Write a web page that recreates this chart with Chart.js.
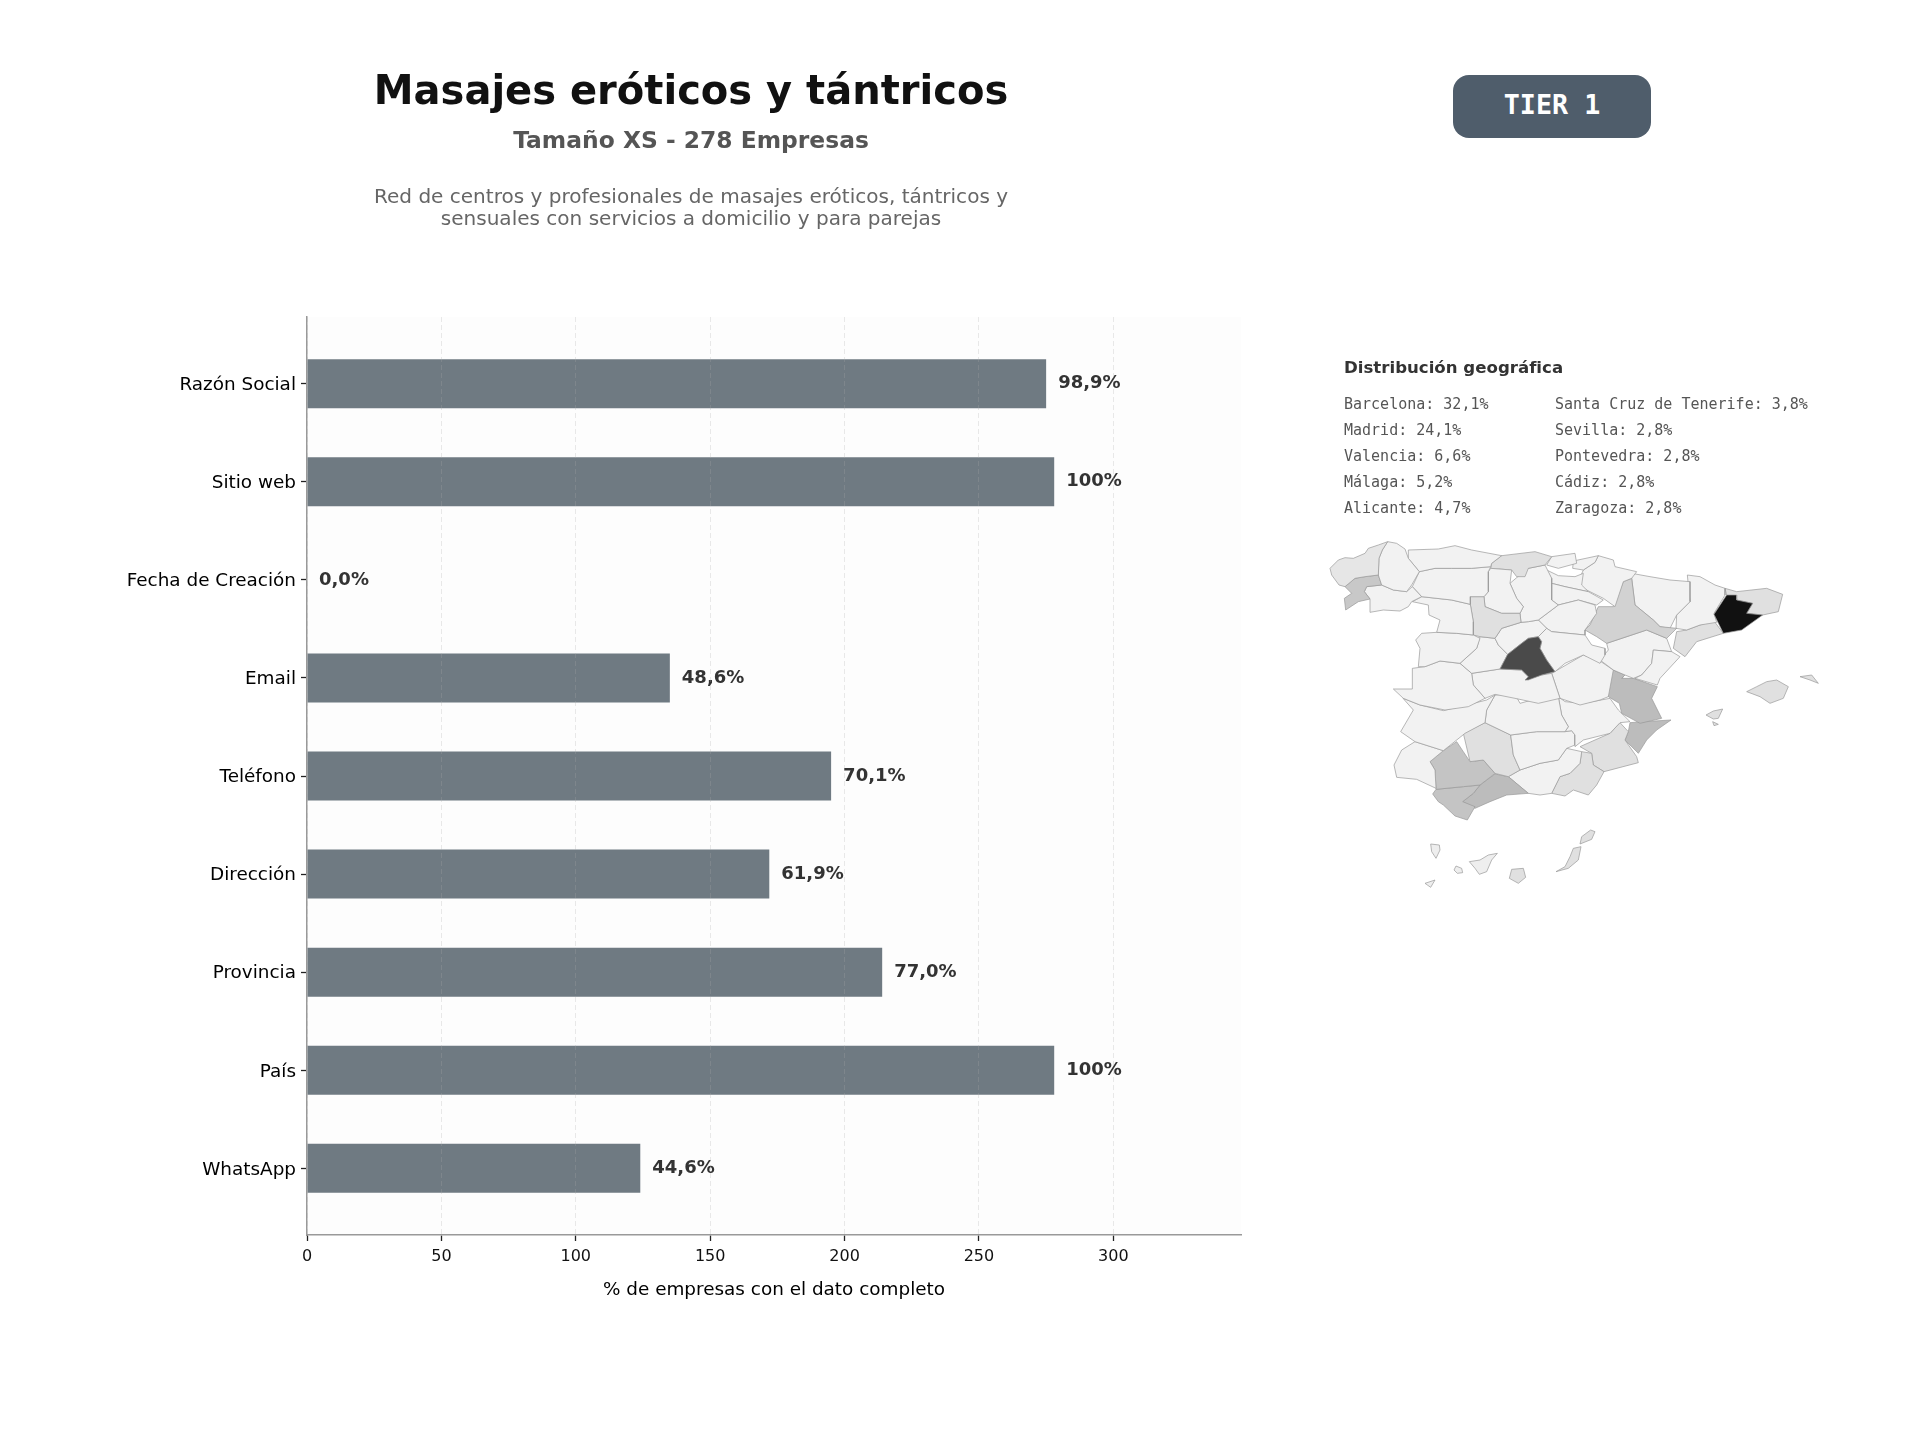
<!DOCTYPE html>
<html lang="es">
<head>
<meta charset="utf-8">
<title>Masajes eróticos y tántricos</title>
<script src="https://cdn.jsdelivr.net/npm/chart.js@4"></script>
<style>
html, body { margin: 0; background: #fff; }
body { width: 1920px; height: 1440px; position: relative; overflow: hidden; font-family: "DejaVu Sans", sans-serif; }
#main { position: absolute; left: 0; top: 0; }
#map { position: absolute; left: 1300px; top: 340px; }
.t { position: absolute; white-space: nowrap; }
.c { transform: translateX(-50%); text-align: center; }
#title { left: 691px; top: 65px; font-size: 40px; font-weight: bold; color: #111; line-height: 50px; }
#sub { left: 691px; top: 125px; font-size: 23.4px; font-weight: bold; color: #555; line-height: 30px; }
#desc { left: 691px; top: 185px; font-size: 20.05px; color: #666; line-height: 22px; }
#tier { left: 1453px; top: 75px; width: 198px; height: 63px; border-radius: 16px; background: #4f5d6b; color: #fff;
        font: bold 26.7px "DejaVu Sans Mono", monospace; line-height: 60px; text-align: center; }
#geoTitle { left: 1344px; top: 358px; font-size: 16.6px; font-weight: bold; color: #333; line-height: 20px; }
.geo { font: 15px "DejaVu Sans Mono", monospace; color: #555; line-height: 18px; }
</style>
</head>
<body>
<canvas id="main" width="1300" height="1440"></canvas>
<canvas id="map" width="560" height="570"></canvas>
<div class="t c" id="title">Masajes eróticos y tántricos</div>
<div class="t c" id="sub">Tamaño XS - 278 Empresas</div>
<div class="t c" id="desc">Red de centros y profesionales de masajes eróticos, tántricos y<br>sensuales con servicios a domicilio y para parejas</div>
<div class="t" id="tier">TIER 1</div>
<div class="t" id="geoTitle">Distribución geográfica</div>
<script>
const campos = ["Razón Social", "Sitio web", "Fecha de Creación", "Email", "Teléfono", "Dirección", "Provincia", "País", "WhatsApp"]
const empresas = [275, 278, 0, 135, 195, 172, 214, 278, 124]
const etiquetas = ["98,9%", "100%", "0,0%", "48,6%", "70,1%", "61,9%", "77,0%", "100%", "44,6%"]
const marcasX = [0, 50, 100, 150, 200, 250, 300]

const geoIzq = ["Barcelona: 32,1%", "Madrid: 24,1%", "Valencia: 6,6%", "Málaga: 5,2%", "Alicante: 4,7%"]
const geoDer = ["Santa Cruz de Tenerife: 3,8%", "Sevilla: 2,8%", "Pontevedra: 2,8%", "Cádiz: 2,8%", "Zaragoza: 2,8%"]

// el mapa se leyo por hojas; cada hoja tiene su origen en unidades del mapa
const hojas = { A: [75, 585], B: [810, 585], C: [240, 1050] }

// provincias: nombre, hoja, gris, contorno x,y
const provincias = [
  ["Barcelona", "B", "#111111", [470,180, 500,180, 500,195, 548,205, 530,235, 578,240, 515,285, 460,295, 432,238]],
  ["Madrid", "A", "#4a4a4a", [640,305, 650,320, 645,340, 665,375, 690,410, 650,420, 610,435, 600,435, 610,425, 590,405, 525,402, 548,358, 590,325, 610,310]],
  ["A Coruña", "A", "#e6e6e6", [15,100, 40,75, 60,68, 85,70, 120,55, 130,40, 160,30, 188,20, 172,45, 162,70, 160,120, 120,125, 90,130, 60,155, 42,150, 20,120]],
  ["Lugo", "A", "#f2f2f2", [188,20, 215,25, 240,42, 250,70, 283,110, 260,150, 245,170, 205,165, 170,150, 160,120, 162,70, 172,45]],
  ["Pontevedra", "A", "#c8c8c8", [60,155, 90,130, 120,125, 160,120, 170,150, 125,155, 118,170, 135,192, 100,200, 62,225, 58,190, 80,175]],
  ["Ourense", "A", "#f2f2f2", [125,155, 170,150, 205,165, 245,170, 262,155, 290,185, 260,200, 250,215, 225,228, 175,225, 135,232, 135,192, 118,170]],
  ["Asturias", "A", "#f2f2f2", [250,45, 340,42, 390,32, 440,45, 530,62, 500,85, 497,95, 440,100, 380,100, 330,100, 283,110, 250,70]],
  ["León", "A", "#f2f2f2", [283,110, 330,100, 380,100, 440,100, 497,95, 490,110, 490,170, 477,185, 436,185, 436,208, 380,195, 290,185, 262,155]],
  ["Zamora", "A", "#f2f2f2", [262,200, 290,185, 380,195, 436,208, 445,260, 445,300, 395,295, 335,292, 345,255, 312,240, 310,210]],
  ["Salamanca", "A", "#f2f2f2", [335,292, 395,295, 445,300, 465,310, 455,340, 405,385, 345,378, 300,395, 280,395, 285,340, 272,315, 290,295]],
  ["Valladolid", "A", "#e0e0e0", [436,185, 477,185, 480,215, 530,235, 585,235, 588,262, 530,280, 510,310, 465,305, 445,300, 445,260, 436,208]],
  ["Palencia", "A", "#f2f2f2", [497,100, 560,105, 555,145, 575,190, 595,215, 585,235, 530,235, 480,215, 477,185, 490,170, 490,110]],
  ["Cantabria", "A", "#e0e0e0", [500,85, 530,62, 630,50, 680,65, 660,90, 610,100, 600,125, 575,125, 560,105, 497,100]],
  ["Burgos", "A", "#f2f2f2", [555,145, 575,128, 610,100, 660,90, 680,130, 680,195, 700,210, 640,255, 610,260, 588,262, 585,235, 595,215, 575,190]],
  ["Segovia", "A", "#f2f2f2", [510,310, 530,280, 588,262, 610,260, 640,255, 665,280, 640,305, 610,310, 590,325, 548,358, 520,330]],
  ["Ávila", "A", "#f2f2f2", [465,305, 510,310, 520,330, 548,358, 525,402, 440,415, 405,385, 455,340]],
  ["Guadalajara", "A", "#f2f2f2", [640,305, 665,280, 680,290, 780,300, 800,330, 840,340, 840,360, 825,385, 775,360, 720,385, 690,410, 665,375, 645,340, 650,320]],
  ["Soria", "A", "#f2f2f2", [640,255, 700,210, 760,195, 810,210, 815,235, 780,285, 780,300, 680,290, 665,280]],
  ["La Rioja", "A", "#f2f2f2", [680,195, 680,145, 720,155, 790,170, 835,195, 815,210, 760,195, 700,210]],
  ["Álava", "A", "#f2f2f2", [665,105, 700,122, 750,125, 775,115, 770,150, 790,170, 720,155, 680,145, 680,130]],
  ["Bizkaia", "A", "#f2f2f2", [680,65, 750,55, 755,85, 700,100, 665,90]],
  ["Cáceres", "A", "#f2f2f2", [262,400, 300,395, 345,378, 405,385, 440,415, 445,450, 480,490, 430,515, 360,525, 285,510, 235,490, 205,462, 262,462]],
  ["Toledo", "A", "#f2f2f2", [440,415, 525,402, 590,405, 610,425, 600,435, 650,420, 680,415, 705,490, 640,505, 570,490, 510,478, 480,490, 445,450]],
  ["Gipuzkoa", "B", "#f2f2f2", [10,78, 85,62, 75,82, 40,105, 8,100]],
  ["Navarra", "B", "#f2f2f2", [85,62, 130,75, 135,95, 200,110, 185,130, 160,140, 135,215, 100,190, 20,150, 40,105, 75,82]],
  ["Zaragoza", "B", "#d2d2d2", [45,285, 60,270, 85,215, 130,215, 160,140, 185,130, 195,210, 250,255, 270,275, 320,280, 290,310, 230,285, 110,325, 80,305]],
  ["Huesca", "B", "#f2f2f2", [185,115, 240,125, 300,135, 360,140, 360,200, 320,240, 300,280, 270,275, 250,255, 195,210, 185,130]],
  ["Lleida", "B", "#f2f2f2", [352,120, 390,125, 435,150, 465,160, 465,180, 432,235, 440,262, 390,270, 350,285, 318,280, 320,240, 360,200]],
  ["Girona", "B", "#e0e0e0", [465,160, 500,170, 590,160, 638,178, 625,230, 578,240, 530,235, 548,205, 500,195, 470,180]],
  ["Tarragona", "B", "#e0e0e0", [432,258, 460,295, 380,320, 345,365, 310,340, 320,290, 350,285, 390,270]],
  ["Castellón", "B", "#f2f2f2", [330,365, 270,430, 262,450, 195,430, 215,420, 245,385, 250,345, 305,350]],
  ["Teruel", "B", "#f2f2f2", [110,325, 230,285, 290,310, 305,350, 250,345, 245,385, 215,420, 190,430, 165,420, 130,405, 90,375, 115,345]],
  ["Valencia", "B", "#bcbcbc", [130,405, 165,420, 155,430, 190,430, 262,455, 245,490, 275,550, 210,565, 155,535, 148,505, 115,485]],
  ["Cuenca", "B", "#f2f2f2", [-55,415, 40,360, 90,378, 130,405, 160,425, 115,485, 90,495, 30,510, -30,490]],
  ["Mallorca", "B", "#e0e0e0", [530,470, 560,455, 590,440, 620,435, 655,455, 640,490, 600,505, 570,485]],
  ["Menorca", "B", "#e0e0e0", [690,425, 725,420, 745,445, 720,435]],
  ["Ibiza", "B", "#e0e0e0", [408,540, 430,528, 458,522, 445,550, 430,552]],
  ["Formentera", "B", "#e0e0e0", [428,560, 445,568, 432,572]],
  ["Badajoz", "C", "#f2f2f2", [69,25, 120,45, 190,62, 260,45, 320,30, 345,15, 320,60, 315,98, 255,130, 190,182, 105,155, 62,125, 100,60]],
  ["Ciudad Real", "C", "#f2f2f2", [345,15, 405,12, 420,40, 510,15, 535,20, 545,75, 565,110, 555,125, 470,125, 392,135, 315,98, 320,60]],
  ["Albacete", "C", "#f2f2f2", [535,20, 555,35, 610,40, 690,25, 715,60, 750,95, 720,98, 690,130, 610,150, 585,170, 585,135, 575,122, 555,125, 565,110, 545,75]],
  ["Jaén", "C", "#f2f2f2", [392,135, 470,125, 555,125, 575,122, 585,135, 585,165, 560,175, 535,210, 480,220, 420,240, 400,195]],
  ["Córdoba", "C", "#e0e0e0", [315,98, 392,135, 400,195, 420,240, 385,260, 345,250, 310,210, 270,215, 250,130]],
  ["Huelva", "C", "#f2f2f2", [105,155, 190,182, 150,215, 165,240, 168,295, 110,268, 50,262, 42,225, 65,180]],
  ["Sevilla", "C", "#c4c4c4", [230,155, 250,185, 270,215, 310,210, 345,250, 300,285, 250,290, 168,298, 165,240, 150,215, 190,182]],
  ["Cádiz", "C", "#c4c4c4", [158,312, 168,298, 250,290, 300,285, 280,310, 248,335, 285,350, 262,390, 225,378, 190,345, 175,335]],
  ["Málaga", "C", "#bcbcbc", [300,285, 345,252, 385,260, 445,310, 380,315, 330,335, 285,355, 248,335, 280,310]],
  ["Granada", "C", "#f2f2f2", [385,260, 420,240, 480,220, 535,210, 560,175, 605,185, 600,220, 570,250, 540,260, 515,310, 480,315, 445,310]],
  ["Almería", "C", "#e0e0e0", [605,185, 635,190, 640,225, 672,245, 650,285, 625,315, 580,300, 555,318, 515,310, 540,260, 570,250, 600,220]],
  ["Murcia", "C", "#e0e0e0", [600,170, 690,130, 720,98, 745,125, 735,150, 770,200, 775,218, 672,245, 640,225, 635,190]],
  ["Alicante", "C", "#bcbcbc", [750,98, 790,95, 873,90, 830,120, 800,150, 775,190, 735,150, 745,125]],
  ["Lanzarote", "C", "#e0e0e0", [632,420, 645,425, 635,448, 600,462, 605,440]],
  ["Fuerteventura", "C", "#e0e0e0", [580,475, 603,470, 595,510, 565,535, 528,545, 555,530, 570,500]],
  ["Gran Canaria", "C", "#e0e0e0", [395,538, 430,535, 437,562, 415,580, 388,565]],
  ["Tenerife", "C", "#eeeeee", [352,490, 325,495, 300,510, 268,515, 285,535, 298,553, 320,545, 335,510]],
  ["La Gomera", "C", "#eeeeee", [228,528, 245,535, 248,548, 232,550, 222,540]],
  ["La Palma", "C", "#eeeeee", [152,462, 178,465, 180,480, 168,505, 155,485]],
  ["El Hierro", "C", "#eeeeee", [135,580, 165,570, 152,592]]
]

geoIzq.forEach((g, i) => addGeo(g, 1344, i))
geoDer.forEach((g, i) => addGeo(g, 1555, i))

function addGeo(txt, x, i) {
  const d = document.createElement("div")
  d.className = "t geo"
  d.textContent = txt
  d.style.left = x + "px"
  d.style.top = (394.5 + i * 26.2) + "px"
  document.body.appendChild(d)
}

const font = { family: "'DejaVu Sans', sans-serif" }

const fondoYEtiquetas = {
  id: "fondoYEtiquetas",
  beforeDraw(chart) {
    const { ctx, chartArea: a } = chart
    ctx.fillStyle = "#fdfdfd"
    ctx.fillRect(a.left, a.top, a.right - a.left, a.bottom - a.top)
  },
  afterDatasetsDraw(chart) {
    const { ctx, scales } = chart
    ctx.save()
    ctx.font = "bold 18px 'DejaVu Sans'"
    ctx.fillStyle = "#333"
    ctx.textBaseline = "middle"
    empresas.forEach((v, i) => {
      ctx.fillText(etiquetas[i], scales.x.getPixelForValue(v) + 12, scales.y.getPixelForValue(i))
    })
    ctx.restore()
  }
}

new Chart(document.getElementById("main"), {
  type: "bar",
  data: {
    datasets: [{
      data: empresas.map((v, i) => ({ x: v, y: i })),
      backgroundColor: "#6f7a82",
      borderWidth: 0,
      barPercentage: 0.5,
      categoryPercentage: 1
    }]
  },
  options: {
    indexAxis: "y",
    responsive: false,
    animation: false,
    events: [],
    layout: { padding: { top: 317, right: 59, bottom: 130, left: 0 } },
    plugins: { legend: { display: false }, tooltip: { enabled: false } },
    scales: {
      x: {
        type: "linear",
        min: 0,
        max: 347.5,
        afterBuildTicks: s => { s.ticks = marcasX.map(v => ({ value: v })) },
        afterFit: s => { s.height = 75 },
        grid: { color: "rgba(170,170,170,.25)", z: 1, tickColor: "#222", tickLength: 6, tickWidth: 1.3 },
        border: { color: "#999", width: 1.5, dash: [5, 3], z: 1 },
        ticks: { maxRotation: 0, color: "#111", padding: 6, font: { ...font, size: 16 } },
        title: { display: true, text: "% de empresas con el dato completo", color: "#000", padding: { top: 10, bottom: 9 }, font: { ...font, size: 18.4 } }
      },
      y: {
        type: "linear",
        reverse: true,
        offset: false,
        min: -0.68,
        max: 8.68,
        afterBuildTicks: s => { s.ticks = campos.map((_, i) => ({ value: i })) },
        afterFit: s => { s.width = 307 },
        grid: { offset: false, drawOnChartArea: false, tickColor: "#222", tickLength: 6, tickWidth: 1.3 },
        border: { color: "#999", width: 1.5 },
        ticks: { autoSkip: false, color: "#000", padding: 5, labelOffset: 1.5, font: { ...font, size: 18.4 }, callback: v => campos[v] }
      }
    }
  },
  plugins: [fondoYEtiquetas]
})

new Chart(document.getElementById("map"), {
  type: "scatter",
  data: {
    datasets: provincias.map(([nombre, hoja, gris, c]) => {
      const [ox, oy] = hojas[hoja]
      const pts = []
      for (let i = 0; i < c.length; i += 2) pts.push({ x: c[i] + ox, y: c[i + 1] + oy })
      pts.push(pts[0])
      return { label: nombre, data: pts, showLine: true, fill: "shape", backgroundColor: gris, borderColor: "#9a9a9a", borderWidth: 0.7, pointRadius: 0, tension: 0 }
    })
  },
  options: {
    responsive: false,
    animation: false,
    events: [],
    plugins: { legend: { display: false }, tooltip: { enabled: false } },
    scales: {
      x: { type: "linear", display: false, min: 0, max: 1680 },
      y: { type: "linear", display: false, reverse: true, min: 0, max: 1710 }
    }
  }
})
</script>
</body>
</html>
